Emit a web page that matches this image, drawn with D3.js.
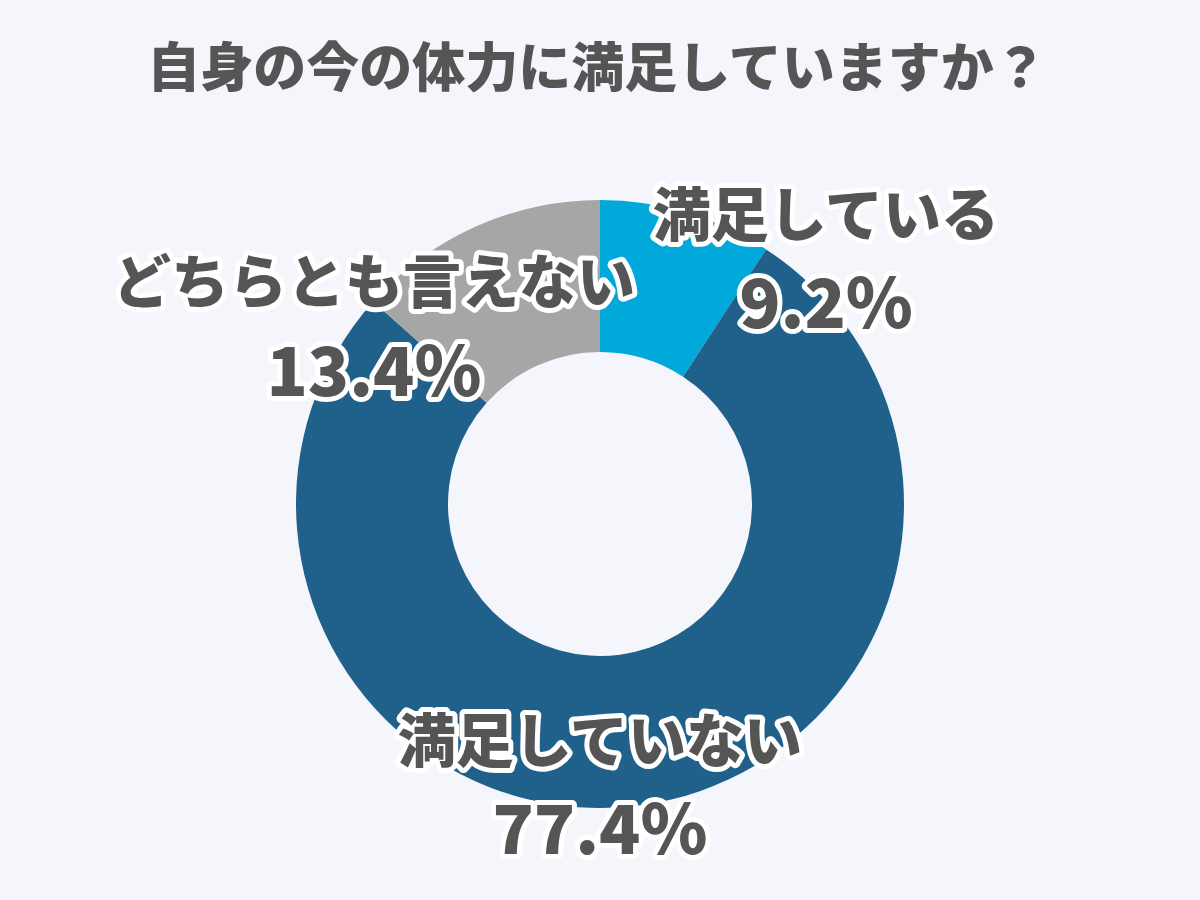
<!DOCTYPE html>
<html>
<head>
<meta charset="utf-8">
<script src="https://cdn.jsdelivr.net/npm/d3@7"></script>
<style>
  html, body { margin: 0; padding: 0; background: #f4f6fb; }
  svg { display: block; }
  text { font-family: "Noto Sans CJK JP", "Noto Sans", sans-serif; }
</style>
</head>
<body>
<div id="chart"></div>
<script>
// data
var title = "自身の今の体力に満足していますか？";
var categories = ["満足している", "満足していない", "どちらとも言えない"];
var values = [9.2, 77.4, 13.4];
var colors = ["#00a9da", "#20618c", "#a6a6a6"];

var width = 1200, height = 900;
var cx = 600, cy = 504;
var outerR = 304, innerR = 152;

// where each label sits (hand placed, like the original)
var labelPos = [
  {x: 826, y: 211, py: 298},
  {x: 600, y: 737, py: 824},
  {x: 374, y: 278, py: 366}
];

var svg = d3.select("#chart").append("svg")
    .attr("width", width)
    .attr("height", height);

svg.append("rect")
    .attr("width", width)
    .attr("height", height)
    .attr("fill", "#f4f6fb");

svg.append("text")
    .attr("x", 597)
    .attr("y", 64)
    .attr("text-anchor", "middle")
    .attr("dominant-baseline", "central")
    .attr("font-size", 53)
    .attr("font-weight", 900)
    .attr("fill", "#555555")
    .text(title);

var pie = d3.pie().sort(null).value(function(d) { return d; });
var arc = d3.arc().innerRadius(innerR).outerRadius(outerR);

var g = svg.append("g")
    .attr("transform", "translate(" + cx + "," + cy + ")");

g.selectAll(".slice")
    .data(pie(values))
  .enter().append("path")
    .attr("class", "slice")
    .attr("d", arc)
    .attr("fill", function(d, i) { return colors[i]; });

// labels with white outline
var labels = svg.selectAll(".lbl")
    .data(categories)
  .enter().append("g")
    .attr("class", "lbl");

labels.append("text")
    .attr("x", function(d, i) { return labelPos[i].x; })
    .attr("y", function(d, i) { return labelPos[i].y; })
    .attr("text-anchor", "middle")
    .attr("dominant-baseline", "central")
    .attr("font-size", 58)
    .attr("font-weight", 900)
    .attr("fill", "#555555")
    .attr("stroke", "#ffffff")
    .attr("stroke-width", 10)
    .attr("stroke-linejoin", "round")
    .attr("paint-order", "stroke")
    .text(function(d) { return d; });

labels.append("text")
    .attr("x", function(d, i) { return labelPos[i].x; })
    .attr("y", function(d, i) { return labelPos[i].py; })
    .attr("text-anchor", "middle")
    .attr("dominant-baseline", "central")
    .attr("font-size", 68)
    .attr("font-weight", 900)
    .attr("fill", "#555555")
    .attr("stroke", "#ffffff")
    .attr("stroke-width", 10)
    .attr("stroke-linejoin", "round")
    .attr("paint-order", "stroke")
    .text(function(d, i) { return values[i].toFixed(1) + "%"; });
</script>
</body>
</html>
